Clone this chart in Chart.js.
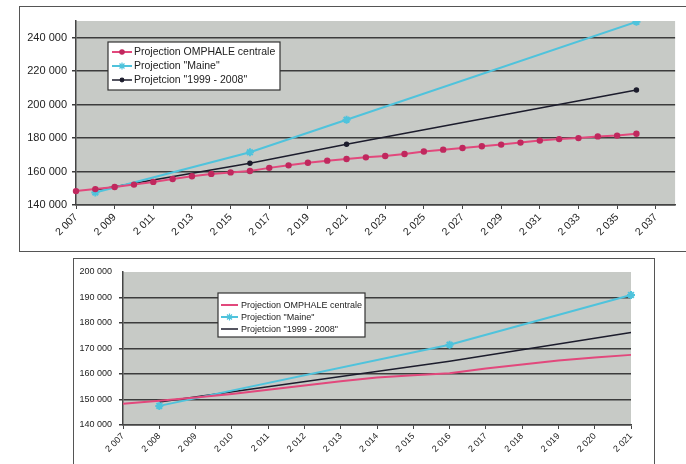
<!DOCTYPE html>
<html>
<head>
<meta charset="utf-8">
<script src="https://cdn.jsdelivr.net/npm/chart.js@4.4.0/dist/chart.umd.min.js"></script>
<style>
    html, body { margin: 0; padding: 0; background: #fff; width: 686px; height: 464px; overflow: hidden; position: relative; }
    .frame { position: absolute; border: 1.5px solid #555; box-sizing: border-box; }
    canvas { position: absolute; left: 0; }
</style>
</head>
<body>
<div class="frame" style="left:19px;top:6px;width:700px;height:246px"></div>
<div class="frame" style="left:73px;top:258px;width:582px;height:230px"></div>
<canvas id="topChart" width="686" height="252" style="top:0"></canvas>
<canvas id="bottomChart" width="686" height="212" style="top:252px"></canvas>
<script>
// années (axe des catégories)
const years = [2007, 2008, 2009, 2010, 2011, 2012, 2013, 2014, 2015, 2016,
    2017, 2018, 2019, 2020, 2021, 2022, 2023, 2024, 2025, 2026,
    2027, 2028, 2029, 2030, 2031, 2032, 2033, 2034, 2035, 2036,
    2037, 2038];

const omphale = [148300, 149500, 150800, 152200, 153800, 155500, 157200, 158600, 159500, 160300,
    162200, 163700, 165300, 166500, 167500, 168500, 169300, 170500, 172000, 173100,
    174100, 175100, 176100, 177300, 178500, 179400, 180000, 181000, 181500, 182600,
    null, null];

const maine = [null, 147500, null, null, null, null, null, null, null, 171500,
    null, null, null, null, 191000, null, null, null, null, null,
    null, null, null, null, null, null, null, null, null, 249500,
    null, null];

const trend = [null, 149000, null, null, null, null, null, null, null, 165000,
    null, null, null, null, 176300, null, null, null, null, null,
    null, null, null, null, null, null, null, null, null, 208800,
    null, null];

const seriesLabels = ['Projection OMPHALE centrale', 'Projection "Maine"', 'Projetcion "1999 - 2008"'];

const yTicksTop = [140000, 160000, 180000, 200000, 220000, 240000];
const yTicksBottom = [140000, 150000, 160000, 170000, 180000, 190000, 200000];

// le second graphique s'arrête en 2021
const shortYears = years.slice(0, 15);

const fmt = v => String(v).replace(/\B(?=(\d{3})+(?!\d))/g, ' ');

const plotBg = {
    id: 'plotBg',
    beforeDraw(chart) {
        const a = chart.chartArea;
        const c = chart.ctx;
        c.save();
        c.fillStyle = '#c7cac6';
        c.fillRect(a.left, a.top, a.width, a.height);
        c.restore();
    }
};

// légende dans un cadre blanc, posée dans la zone de traçage
const boxLegend = {
    id: 'boxLegend',
    afterDraw(chart, args, o) {
        const c = chart.ctx;
        c.save();
        c.fillStyle = '#fff';
        c.fillRect(o.x, o.y, o.w, o.h);
        c.strokeStyle = '#333';
        c.lineWidth = 1.2;
        c.strokeRect(o.x, o.y, o.w, o.h);
        c.font = o.font;
        c.textBaseline = 'middle';
        chart.data.datasets.forEach((ds, i) => {
            const y = o.y + o.first + i * o.step;
            c.strokeStyle = ds.borderColor;
            c.lineWidth = ds.borderWidth;
            c.beginPath();
            c.moveTo(o.x + o.s0, y);
            c.lineTo(o.x + o.s1, y);
            c.stroke();
            if (ds.legendMarker) {
                c.fillStyle = ds.pointBackgroundColor;
                c.strokeStyle = ds.pointBorderColor;
                c.lineWidth = 1.2;
                Chart.helpers.drawPoint(c, { pointStyle: ds.pointStyle, radius: ds.legendMarker, borderWidth: 1.2 }, o.x + (o.s0 + o.s1) / 2, y);
            }
            c.fillStyle = '#222';
            c.fillText(ds.label, o.x + o.tx, y + 0.5);
        });
        c.restore();
    }
};

const pink = '#e2487c';
const cyan = '#4fc3dc';
const dark = '#1c1c2c';

const ctx = document.getElementById('topChart').getContext('2d');

const topChart = new Chart(ctx, {
    type: 'line',
    data: {
        labels: years,
        datasets: [{
            label: seriesLabels[0],
            data: omphale,
            borderColor: pink,
            borderWidth: 2,
            pointStyle: 'circle',
            pointRadius: 2.2,
            pointBackgroundColor: '#c0285e',
            pointBorderColor: '#c0285e',
            legendMarker: 2.2
        }, {
            label: seriesLabels[1],
            data: maine,
            borderColor: cyan,
            borderWidth: 2,
            spanGaps: true,
            pointStyle: 'star',
            pointRadius: 4,
            pointBackgroundColor: cyan,
            pointBorderColor: cyan,
            legendMarker: 3.5
        }, {
            label: seriesLabels[2],
            data: trend,
            borderColor: dark,
            borderWidth: 1.5,
            spanGaps: true,
            pointStyle: 'circle',
            pointRadius: 2,
            pointBackgroundColor: dark,
            pointBorderColor: dark,
            legendMarker: 1.8
        }]
    },
    options: {
        responsive: false,
        animation: false,
        layout: { padding: { left: 18, right: 5, top: 21, bottom: 5 } },
        elements: { line: { tension: 0 } },
        scales: {
            x: {
                afterFit: s => { s.height = 42; },
                border: { color: '#444', width: 1.5 },
                grid: {
                    drawOnChartArea: false,
                    tickLength: 4,
                    color: c => c.index % 2 ? 'rgba(0,0,0,0)' : '#444'
                },
                ticks: {
                    autoSkip: false,
                    maxRotation: 45,
                    minRotation: 45,
                    padding: 2,
                    color: '#222',
                    font: { family: 'Liberation Sans, Arial', size: 10.5 },
                    callback: (v, i) => i % 2 ? '' : fmt(years[i])
                }
            },
            y: {
                min: 140000,
                max: 250000,
                afterFit: s => { s.width = 58; },
                afterBuildTicks: s => { s.ticks = yTicksTop.map(v => ({ value: v })); },
                border: { color: '#444', width: 1.5 },
                grid: { color: '#3c3c3c', lineWidth: 1.5, tickLength: 4 },
                ticks: {
                    padding: 5,
                    color: '#222',
                    font: { family: 'Liberation Sans, Arial', size: 11 },
                    callback: v => fmt(v)
                }
            }
        },
        plugins: {
            legend: { display: false },
            tooltip: { enabled: false },
            boxLegend: {
                x: 108, y: 42, w: 172, h: 48,
                first: 10, step: 14,
                s0: 4, s1: 24, tx: 26,
                font: '10.5px "Liberation Sans", Arial'
            }
        }
    },
    plugins: [plotBg, boxLegend]
});

const ctx2 = document.getElementById('bottomChart').getContext('2d');

const bottomChart = new Chart(ctx2, {
    type: 'line',
    data: {
        labels: shortYears,
        datasets: [{
            label: seriesLabels[0],
            data: omphale.slice(0, 15),
            borderColor: pink,
            borderWidth: 2,
            pointRadius: 0
        }, {
            label: seriesLabels[1],
            data: maine.slice(0, 15),
            borderColor: cyan,
            borderWidth: 2,
            spanGaps: true,
            pointStyle: 'star',
            pointRadius: 4,
            pointBackgroundColor: cyan,
            pointBorderColor: cyan,
            legendMarker: 3.5
        }, {
            label: seriesLabels[2],
            data: trend.slice(0, 15),
            borderColor: dark,
            borderWidth: 1.5,
            spanGaps: true,
            pointRadius: 0
        }]
    },
    options: {
        responsive: false,
        animation: false,
        layout: { padding: { left: 75, right: 55, top: 20, bottom: 4 } },
        elements: { line: { tension: 0 } },
        scales: {
            x: {
                afterFit: s => { s.height = 35; },
                border: { color: '#444', width: 1.5 },
                grid: { drawOnChartArea: false, tickLength: 4, color: '#444' },
                ticks: {
                    autoSkip: false,
                    maxRotation: 45,
                    minRotation: 45,
                    padding: 2,
                    color: '#222',
                    font: { family: 'Liberation Sans, Arial', size: 9 },
                    callback: (v, i) => fmt(shortYears[i])
                }
            },
            y: {
                min: 140000,
                max: 200000,
                afterFit: s => { s.width = 48; },
                afterBuildTicks: s => { s.ticks = yTicksBottom.map(v => ({ value: v })); },
                border: { color: '#444', width: 1.5 },
                grid: {
                    lineWidth: 1.5,
                    tickLength: 4,
                    color: c => c.tick && c.tick.value === 200000 ? 'rgba(0,0,0,0)' : '#3c3c3c'
                },
                ticks: {
                    padding: 7,
                    color: '#222',
                    font: { family: 'Liberation Sans, Arial', size: 9 },
                    callback: v => fmt(v)
                }
            }
        },
        plugins: {
            legend: { display: false },
            tooltip: { enabled: false },
            boxLegend: {
                x: 218, y: 41, w: 147, h: 44,
                first: 12, step: 12,
                s0: 3, s1: 20, tx: 23,
                font: '9px "Liberation Sans", Arial'
            }
        }
    },
    plugins: [plotBg, boxLegend]
});
</script>
</body>
</html>
